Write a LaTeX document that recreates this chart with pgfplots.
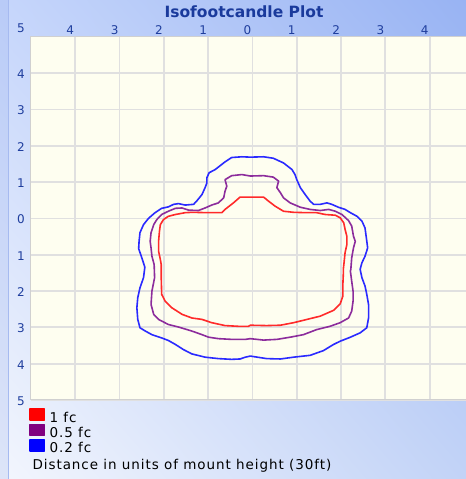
\documentclass[border=0pt]{standalone}
\usepackage{pgfplots}
\pgfplotsset{compat=1.18}
\usetikzlibrary{shadings}
\usepackage{fontspec}
\setmainfont{DejaVu Sans}
\newfontfamily\legfont{DejaVu Sans}[LetterSpace=7]
\definecolor{bgUL}{HTML}{C6D6FB}
\definecolor{bgUR}{HTML}{98B3F3}
\definecolor{bgLL}{HTML}{F3F6FD}
\definecolor{bgLR}{HTML}{C2D3F7}
\definecolor{stripc}{HTML}{8FA8EA}
\definecolor{stripline}{HTML}{A6BAF0}
\definecolor{tickblue}{HTML}{1F3E9E}
\definecolor{titleblue}{HTML}{1A3A9C}
\definecolor{cream}{HTML}{FEFEF0}
\definecolor{gridgray}{HTML}{E0E0E0}
\definecolor{axisgray}{HTML}{D0D0D0}
\definecolor{cblue}{HTML}{2A2AFF}
\definecolor{cpurple}{HTML}{8C2C9C}
\definecolor{cred}{HTML}{FF2A2A}
\definecolor{lred}{HTML}{FF0000}
\definecolor{lpurple}{HTML}{800080}
\definecolor{lblue}{HTML}{0000FF}
\begin{document}
\begin{tikzpicture}
\useasboundingbox (0,0) rectangle (466bp,479bp);
\shade[upper left=bgUL, upper right=bgUR, lower left=bgLL, lower right=bgLR] (0,0) rectangle (466bp,479bp);
\fill[stripc, opacity=0.22] (0,0) rectangle (8.5bp,479bp);
\draw[stripline, line width=1bp] (8.5bp,0) -- (8.5bp,479bp);
\begin{axis}[
  name=ax,
  at={(31bp,79bp)}, anchor=south west,
  scale only axis, width=435bp, height=363bp,
  xmin=-5, xmax=4.82, ymin=-5, ymax=5,
  axis background/.style={fill=cream},
  axis line style={draw=axisgray, line width=1bp},
  grid=major,
  major grid style={draw=gridgray, line width=1.8bp},
  major tick length=0pt,
  xtick={-4,...,4}, xticklabels={4,3,2,1,0,1,2,3,4},
  xticklabel pos=upper,
  ytick={-5,...,4}, yticklabels={5,4,3,2,1,0,1,2,3,4},
  extra y ticks={5}, extra y tick labels={5},
  extra y tick style={grid=none, yticklabel style={yshift=10bp}},
  tick label style={font=\fontsize{12bp}{13bp}\selectfont, text=tickblue},
  xticklabel style={anchor=base, xshift=-5bp, yshift=2bp},
  yticklabel style={anchor=center, xshift=-10bp, yshift=-1bp},
  title={Isofootcandle Plot},
  title style={at={(axis description cs:0.4897,1)}, anchor=base, yshift=13.8bp,
    font=\fontsize{15.5bp}{18bp}\selectfont\bfseries, text=titleblue, inner sep=0pt},
  legend style={at={(axis description cs:0,-0.0229)}, anchor=north west, xshift=-1.5bp,
    draw=none, fill=none, inner sep=0pt, outer sep=0pt,
    font=\fontsize{13.5bp}{16bp}\legfont, row sep=-2.4bp, column sep=3.5bp,
    nodes={text height=10bp, text depth=3bp, inner sep=1bp}},
  legend cell align=left,
]
\addplot[cred, line width=1.6bp, line join=round,
  legend image code/.code={\fill[lred] (0bp,-1.5bp) rectangle (14bp,9.5bp);}]
coordinates {
(-0.05,0.59)(0.25,0.59)(0.36,0.48)(0.51,0.34)(0.70,0.20)(0.93,0.17)(1.23,0.16)(1.45,0.16)(1.64,0.11)(1.87,0.09)(1.98,0.02)(2.06,-0.12)(2.09,-0.30)(2.13,-0.49)(2.13,-0.72)(2.09,-0.94)(2.07,-1.18)(2.05,-1.40)
(2.05,-1.54)(2.04,-1.82)(2.04,-2.14)(1.98,-2.35)(1.83,-2.53)(1.53,-2.69)(1.23,-2.78)(0.93,-2.87)(0.63,-2.94)(0.32,-2.95)(-0.05,-2.94)
(-0.09,-2.97)(-0.32,-2.97)(-0.62,-2.95)(-0.92,-2.87)(-1.14,-2.78)(-1.37,-2.74)(-1.59,-2.64)(-1.82,-2.46)(-1.97,-2.28)(-2.05,-2.09)(-2.06,-1.63)(-2.06,-1.27)
(-2.08,-1.13)(-2.12,-0.90)(-2.12,-0.63)(-2.10,-0.35)(-2.08,-0.17)(-2.01,-0.03)(-1.90,0.06)(-1.74,0.11)(-1.52,0.16)(-1.37,0.17)(-0.99,0.16)(-0.69,0.16)(-0.62,0.25)(-0.43,0.43)(-0.28,0.59)(-0.05,0.59)
};
\addlegendentry{1 fc}
\addplot[cpurple, line width=1.6bp, line join=round,
  legend image code/.code={\fill[lpurple] (0bp,-1.5bp) rectangle (14bp,9.5bp);}]
coordinates {
(-0.05,1.17)(0.25,1.18)(0.47,1.14)(0.59,1.03)(0.55,0.85)(0.63,0.71)(0.70,0.57)(0.85,0.43)(1.08,0.31)(1.30,0.25)(1.53,0.22)(1.72,0.25)(1.87,0.20)(2.02,0.11)(2.17,-0.06)(2.24,-0.21)(2.28,-0.49)(2.32,-0.63)(2.28,-0.81)(2.24,-1.08)(2.22,-1.40)
(2.21,-1.45)(2.24,-1.73)(2.27,-2.00)(2.27,-2.28)(2.24,-2.55)(2.17,-2.74)(1.98,-2.87)(1.75,-2.97)(1.45,-3.06)(1.15,-3.20)(0.85,-3.27)(0.55,-3.33)(0.25,-3.35)(-0.05,-3.31)
(-0.16,-3.33)(-0.47,-3.33)(-0.77,-3.31)(-0.99,-3.27)(-1.14,-3.20)(-1.37,-3.10)(-1.67,-2.99)(-1.90,-2.92)(-2.12,-2.78)(-2.23,-2.64)(-2.29,-2.37)(-2.27,-2.00)(-2.21,-1.63)(-2.22,-1.27)
(-2.27,-1.04)(-2.29,-0.81)(-2.31,-0.63)(-2.29,-0.39)(-2.23,-0.17)(-2.16,-0.03)(-2.05,0.11)(-1.90,0.20)(-1.74,0.28)(-1.59,0.29)(-1.44,0.23)(-1.22,0.22)(-1.07,0.29)(-0.92,0.37)(-0.77,0.43)(-0.65,0.57)(-0.62,0.75)(-0.58,0.89)(-0.62,1.07)(-0.47,1.18)(-0.24,1.21)(-0.05,1.17)
};
\addlegendentry{0.5 fc}
\addplot[cblue, line width=1.6bp, line join=round,
  legend image code/.code={\fill[lblue] (0bp,-1.5bp) rectangle (14bp,9.5bp);}]
coordinates {
(-0.05,1.69)(0.25,1.70)(0.47,1.66)(0.70,1.53)(0.89,1.35)(0.96,1.21)(1.00,1.07)(1.08,0.85)(1.19,0.66)(1.30,0.48)(1.38,0.39)(1.53,0.39)(1.68,0.43)(1.79,0.39)(1.94,0.31)(2.09,0.25)(2.21,0.16)(2.36,0.06)(2.47,-0.07)(2.54,-0.26)(2.57,-0.53)(2.60,-0.81)(2.54,-1.04)(2.47,-1.22)(2.43,-1.40)
(2.47,-1.63)(2.54,-1.86)(2.58,-2.09)(2.62,-2.37)(2.62,-2.74)(2.58,-3.01)(2.43,-3.15)(2.21,-3.27)(1.98,-3.38)(1.83,-3.47)(1.60,-3.64)(1.30,-3.77)(0.93,-3.82)(0.63,-3.87)(0.32,-3.86)(-0.05,-3.79)
(-0.16,-3.82)(-0.28,-3.87)(-0.47,-3.88)(-0.77,-3.86)(-1.07,-3.82)(-1.37,-3.73)(-1.56,-3.61)(-1.74,-3.47)(-1.90,-3.36)(-2.05,-3.29)(-2.27,-3.20)(-2.42,-3.10)(-2.54,-3.01)(-2.59,-2.78)(-2.61,-2.46)(-2.59,-2.18)(-2.54,-1.91)(-2.46,-1.63)(-2.43,-1.34)
(-2.51,-1.04)(-2.57,-0.83)(-2.56,-0.63)(-2.54,-0.39)(-2.46,-0.17)(-2.35,0.0)(-2.20,0.16)(-2.05,0.28)(-1.90,0.32)(-1.78,0.39)(-1.67,0.41)(-1.52,0.37)(-1.33,0.39)(-1.26,0.48)(-1.14,0.66)(-1.07,0.85)(-1.03,0.98)(-1.03,1.12)(-0.98,1.26)(-0.84,1.35)(-0.62,1.56)(-0.47,1.68)(-0.24,1.70)(-0.05,1.69)
};
\addlegendentry{0.2 fc}
\end{axis}
\node[anchor=base west, inner sep=0pt, font=\fontsize{13.5bp}{16bp}\legfont]
  at ([xshift=1.3bp, yshift=-69.3bp]ax.south west) {Distance in units of mount height (30ft)};
\end{tikzpicture}
\end{document}
